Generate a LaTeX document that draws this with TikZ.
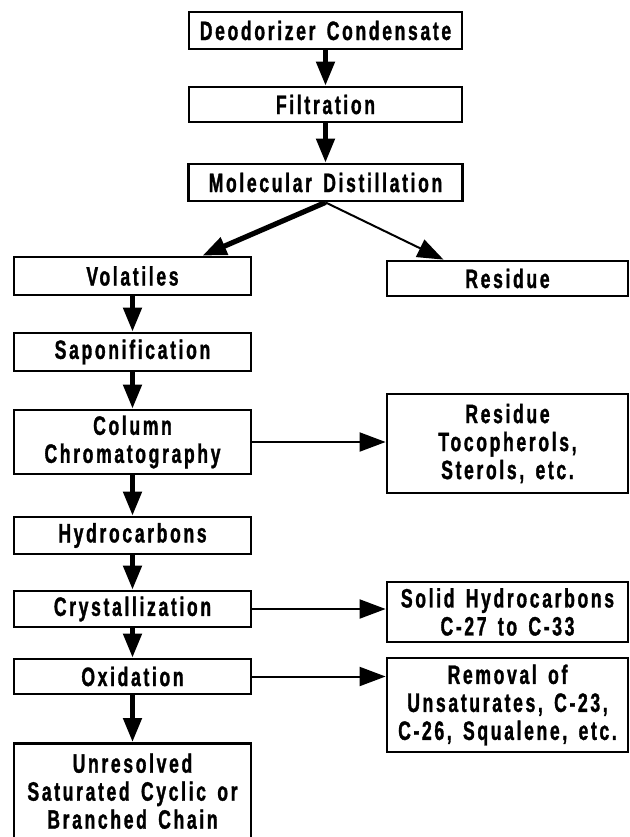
\documentclass[tikz,border=0pt]{standalone}
\usepackage{fontspec}
\newfontfamily\flowfont{Liberation Sans}[FakeStretch=0.66,LetterSpace=10,WordSpace=1.5,FakeBold=1.2]
\usetikzlibrary{arrows.meta}

\tikzset{
  flowbox/.style={draw,line width=1.4pt,align=center,inner sep=0pt,
    font=\flowfont\fontsize{13.3}{14}\selectfont\bfseries},
  leftbox/.style={flowbox,minimum width=118.5pt},
  rightbox/.style={flowbox,minimum width=120.5pt},
  thickarrow/.style={-{Triangle[length=12pt,width=9pt]},line width=2.4pt},
  thinarrow/.style={-{Triangle[length=13pt,width=9.5pt]},line width=1pt}
}

\begin{document}
\begin{tikzpicture}[x=0.5pt,y=-0.5pt]
\useasboundingbox (0,0) rectangle (629,837);
\clip (0,0) rectangle (629,837);
\node[flowbox,minimum width=136.5pt,minimum height=18.5pt] (cond) at (325.5,30.5) {Deodorizer Condensate};
\node[flowbox,minimum width=136.5pt,minimum height=17.5pt] (filt) at (325.5,104.5) {Filtration};
\node[flowbox,minimum width=137pt,minimum height=18.5pt] (mold) at (325.5,182.5) {Molecular Distillation};
\node[leftbox,minimum height=19pt] (vola) at (132.5,276) {Volatiles};
\node[rightbox,minimum height=17.5pt] (resi) at (507.5,278.5) {Residue};
\node[leftbox,minimum height=19pt] (sapo) at (132.5,352) {Saponification};
\node[leftbox,minimum height=32pt] (colu) at (132.5,442) {Column\\Chromatography};
\node[rightbox,minimum height=49.5pt] (toco) at (507.5,443.5) {Residue\\Tocopherols,\\Sterols, etc.};
\node[leftbox,minimum height=18.5pt] (hydr) at (132.5,535.5) {Hydrocarbons};
\node[leftbox,minimum height=18pt] (crys) at (132.5,609) {Crystallization};
\node[rightbox,minimum height=30pt] (soli) at (507.5,612) {Solid Hydrocarbons\\C-27 to C-33};
\node[leftbox,minimum height=17.5pt] (oxid) at (132.5,676.5) {Oxidation};
\node[rightbox,minimum height=47pt] (remo) at (507.5,705) {Removal of\\Unsaturates, C-23,\\C-26, Squalene, etc.};
\node[leftbox,anchor=north,inner ysep=5pt,text depth=15pt] (unre) at (132.5,742) {Unresolved\\Saturated Cyclic or\\Branched Chain};

\draw[thickarrow] (cond) -- (filt);
\draw[thickarrow] (filt) -- (mold);
\draw[thickarrow,line width=2.6pt] (mold.south) -- ([xshift=35pt]vola.north);
\draw[thinarrow] (mold.south) -- ([xshift=-32pt]resi.north);
\draw[thickarrow] (vola) -- (sapo);
\draw[thickarrow] (sapo) -- (colu);
\draw[thickarrow] (colu) -- (hydr);
\draw[thickarrow] (hydr) -- (crys);
\draw[thickarrow] (crys) -- (oxid);
\draw[thickarrow] (oxid) -- (unre);
\draw[thinarrow] (colu.east) -- (colu.east -| toco.west);
\draw[thinarrow] (crys.east) -- (crys.east -| soli.west);
\draw[thinarrow] (oxid.east) -- (oxid.east -| remo.west);
\end{tikzpicture}
\end{document}
